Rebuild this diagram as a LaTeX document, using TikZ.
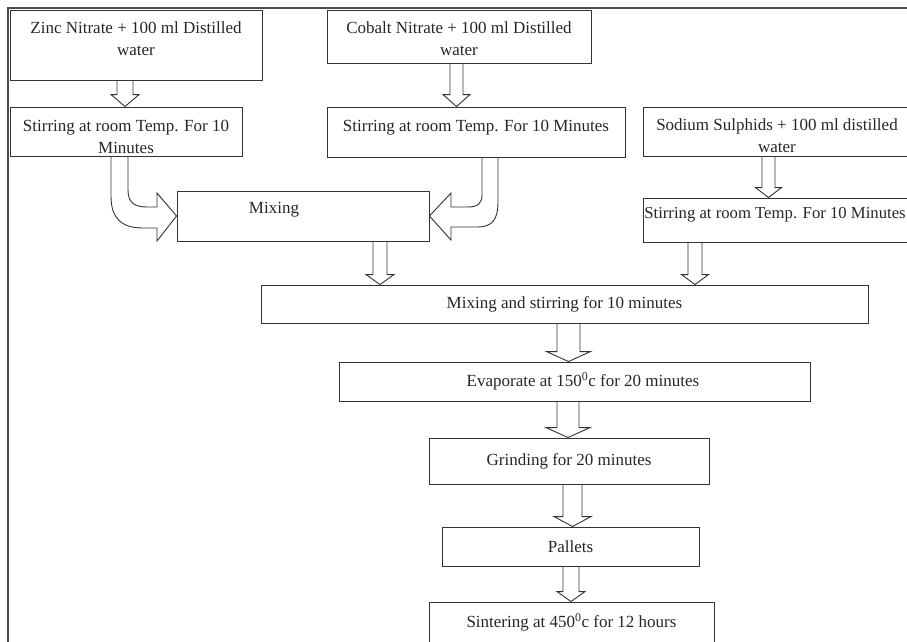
\documentclass[tikz,border=0pt]{standalone}
\usepackage{fontspec}
\setmainfont{Liberation Serif}
\usetikzlibrary{positioning,calc}
\tikzset{
    proc-box/.style = {draw=black!80, line width=0.9pt, rectangle, inner sep=0pt},
    box-text/.style = {align=center, inner sep=0pt, text=black!85},
    block-line/.style = {draw=black!80, line width=0.9pt, line join=miter},
    frame-line/.style = {draw=black!70, line width=1.3pt},
    block-down/.style n args = {3}{to path={let \p1=(\tikztostart), \p2=(\tikztotarget) in
        (\x1-#1,\y1) -- (\x1-#1,\y2+#3) -- (\x1-#2,\y2+#3) -- (\x1,\y2)
        -- (\x1+#2,\y2+#3) -- (\x1+#1,\y2+#3) -- (\x1+#1,\y1)}},
}

\begin{document}
\begin{tikzpicture}[x=1pt, y=-1pt, every node/.style={font=\fontsize{17pt}{22pt}\selectfont}]
\useasboundingbox (0,0) rectangle (907,642);
\clip (0,0) rectangle (907,642);

\draw[frame-line] (907,8) -- (8,8) -- (8,642);

% starting solutions
\node[proc-box, minimum width=252pt, minimum height=70pt] (zinc) at (136,45) {};
\node[box-text, below=11.5pt] (zinc-t) at (zinc.north) {Zinc Nitrate + 100 ml Distilled\\water};
\node[proc-box, minimum width=264pt, minimum height=53pt] (cobalt) at (459,36.5) {};
\node[box-text, below=11.5pt] (cobalt-t) at (cobalt.north) {Cobalt Nitrate + 100 ml Distilled\\water};
\node[proc-box, minimum width=268pt, minimum height=49pt] (sodium) at (777,131.5) {};
\node[box-text, below=11.5pt] (sodium-t) at (sodium.north) {Sodium Sulphids + 100 ml distilled\\water};

% stirring steps
\node[proc-box, minimum width=232pt, minimum height=49pt] (stir-zn) at (126,131.5) {};
\node[box-text, below=13pt] (stir-zn-t) at (stir-zn.north) {Stirring at room Temp. For 10\\Minutes};
\node[proc-box, minimum width=298pt, minimum height=50pt] (stir-co) at (476,132) {};
\node[box-text, below=13pt] (stir-co-t) at (stir-co.north) {Stirring at room Temp. For 10 Minutes};
\node[proc-box, minimum width=268pt, minimum height=44pt] (stir-na) at (777,220) {};
\node[box-text, below=10pt, font=\fontsize{16.7pt}{22pt}\selectfont] (stir-na-t) at ([xshift=-2pt]stir-na.north) {Stirring at room Temp. For 10 Minutes};

% mixing and processing
\node[proc-box, minimum width=252pt, minimum height=50pt] (mix) at (303,216) {};
\node[box-text] (mix-t) at (274,210) {Mixing};
\node[proc-box, minimum width=607pt, minimum height=38pt, text=black!85] (mix-stir) at (564.5,304) {Mixing and stirring for 10 minutes};
\node[proc-box, minimum width=471pt, minimum height=39pt] (evap) at (574.5,381.5) {};
\node[box-text] (evap-t) at (583,381) {Evaporate at 150\textsuperscript{0}c for 20 minutes};
\node[proc-box, minimum width=280pt, minimum height=46pt, text=black!85] (grind) at (569,461) {Grinding for 20 minutes};
\node[proc-box, minimum width=257pt, minimum height=39pt, text=black!85] (pallets) at (570.5,546.5) {Pallets};
\node[proc-box, minimum width=285pt, minimum height=58pt] (sinter) at (571.5,631) {};
\node[box-text, below=11.5pt] (sinter-t) at (sinter.north) {Sintering at 450\textsuperscript{0}c for 12 hours};

% block arrows
\draw[block-line, block-down={8pt}{14pt}{12pt}] (125,0 |- zinc.south) to (125,0 |- stir-zn.north);
\draw[block-line, block-down={6.5pt}{13.5pt}{12pt}] (456.5,0 |- cobalt.south) to (456.5,0 |- stir-co.north);
\draw[block-line, block-down={6.5pt}{13pt}{10pt}] (768.5,0 |- sodium.south) to (768.5,0 |- stir-na.north);
\draw[block-line, block-down={7pt}{14pt}{10pt}] (380,0 |- mix.south) to (380,0 |- mix-stir.north);
\draw[block-line, block-down={7pt}{13.5pt}{10pt}] (695,0 |- stir-na.south) to (695,0 |- mix-stir.north);
\draw[block-line, block-down={11.5pt}{22pt}{10pt}] (568.5,0 |- mix-stir.south) to (568.5,0 |- evap.north);
\draw[block-line, block-down={11pt}{22pt}{10pt}] (568,0 |- evap.south) to (568,0 |- grind.north);
\draw[block-line, block-down={9.5pt}{18.5pt}{10pt}] (572.5,0 |- grind.south) to (572.5,0 |- pallets.north);
\draw[block-line, block-down={8pt}{14pt}{10pt}] (571,0 |- pallets.south) to (571,0 |- sinter.north);

% curved arrows into mixing
\draw[block-line] (111,0 |- stir-zn.south) -- (111,196) .. controls (111,218) and (121,228) .. (143,228)
    -- (157,228) -- (157,241) -- (mix.west) -- (157,193) -- (157,207) -- (147,207)
    .. controls (135,207) and (128,203) .. (128,190) -- (128,0 |- stir-zn.south);
\draw[block-line] (498,0 |- stir-co.south) -- (498,202) .. controls (498,220) and (492,227) .. (477,227)
    -- (451,227) -- (451,240) -- (mix.east) -- (451,193) -- (451,207) -- (468,207)
    .. controls (478,207) and (482,203) .. (482,195) -- (482,0 |- stir-co.south);
\end{tikzpicture}
\end{document}
